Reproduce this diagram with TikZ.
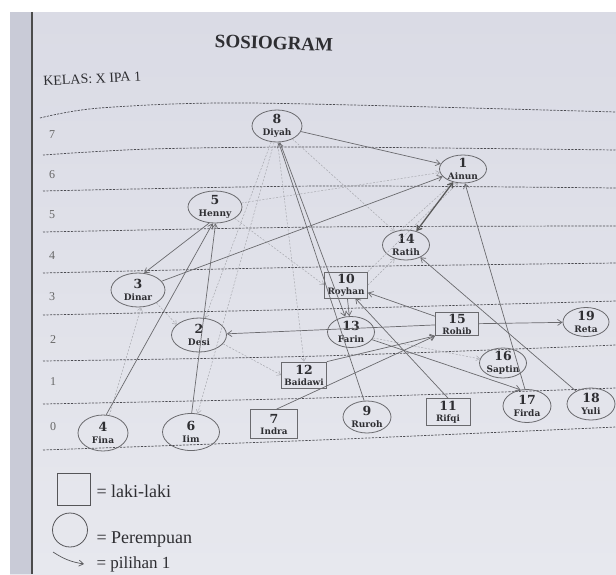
\documentclass[tikz,border=0pt]{standalone}
\usepackage{fontspec}
\setmainfont{Liberation Serif}
\newfontfamily\nodefont{DejaVu Serif}
\usetikzlibrary{shapes.geometric,arrows.meta}
\definecolor{pagetop}{HTML}{DADBE5}
\definecolor{pagebot}{HTML}{E7E8EE}
\definecolor{stripc}{HTML}{C9CBD7}
\definecolor{edgec}{HTML}{6A6A6E}
\definecolor{faintc}{HTML}{A9AAB0}
\definecolor{txt}{HTML}{2E2E32}
\definecolor{dashc}{HTML}{4A4A50}
\newcommand{\nd}[2]{{\fontsize{12.5}{11.5}\selectfont #1}\\{#2}}
\tikzset{
  pers/.style={ellipse, draw=edgec, line width=0.8pt, inner sep=-1pt, align=center,
    font=\nodefont\bfseries\fontsize{9}{11.5}\selectfont, text=txt},
  male/.style={rectangle, draw=edgec, line width=0.8pt, inner sep=0.5pt, align=center,
    font=\nodefont\bfseries\fontsize{8.8}{11}\selectfont, text=txt},
  choice/.style={draw=edgec, line width=0.7pt, -{Straight Barb[length=4.5pt,width=6pt]}},
  mutual/.style={draw=black!65, line width=1.3pt, {Straight Barb[length=4.5pt,width=6pt]}-{Straight Barb[length=4.5pt,width=6pt]}},
  faintline/.style={draw=faintc, line width=0.5pt, dash pattern=on 2pt off 1.5pt, -{Straight Barb[length=3.5pt,width=5pt]}},
  rowline/.style={draw=dashc, line width=0.7pt, dash pattern=on 2.2pt off 1.3pt},
  rowlabel/.style={font=\fontsize{12}{12}\selectfont, text=black!60},
  legendtext/.style={anchor=base west, font=\fontsize{18}{18}\selectfont, text=txt}
}
\begin{document}
\begin{tikzpicture}[x=1pt,y=-1pt]
\useasboundingbox (0,0) rectangle (616,574);
\fill[white] (0,0) rectangle (616,574);
\shade[top color=pagetop, bottom color=pagebot] (10,12) rectangle (616,574);
\fill[stripc] (10,12) rectangle (32,574);
\draw[line width=1.6pt, black!70] (32,12) -- (32,574);

% title
\node[font=\fontsize{19}{19}\selectfont\bfseries, text=txt, rotate=-2] (title) at (274,43) {SOSIOGRAM};
\node[anchor=base west, font=\fontsize{14}{14}\selectfont, text=txt, rotate=3] (kelas) at (40,86) {KELAS: X IPA 1};

% row lines
\draw[rowline] plot[smooth] coordinates {(40,118) (100,108) (250,103) (616,112)};
\draw[rowline] plot[smooth] coordinates {(43,155) (150,149) (320,147) (616,150)};
\draw[rowline] plot[smooth] coordinates {(43,191) (320,186) (616,188)};
\draw[rowline] plot[smooth] coordinates {(43,232) (320,227) (616,226)};
\draw[rowline] plot[smooth] coordinates {(43,273) (320,267) (616,263)};
\draw[rowline] plot[smooth] coordinates {(43,315) (320,309) (616,301)};
\draw[rowline] plot[smooth] coordinates {(43,361) (320,356) (616,345)};
\draw[rowline] plot[smooth] coordinates {(43,404) (320,398) (616,388)};
\draw[rowline] plot[smooth] coordinates {(43,450) (320,440) (616,427)};

% row labels
\node[rowlabel] (r7) at (52,135) {7};
\node[rowlabel] (r6) at (52,175) {6};
\node[rowlabel] (r5) at (52,215) {5};
\node[rowlabel] (r4) at (52,256) {4};
\node[rowlabel] (r3) at (52,297) {3};
\node[rowlabel] (r2) at (53,340) {2};
\node[rowlabel] (r1) at (53,382) {1};
\node[rowlabel] (r0) at (53,427) {0};

% nodes
\node[pers, minimum width=50pt, minimum height=32pt] (n8) at (277,126) {\nd{8}{Diyah}};
\node[pers, minimum width=47pt, minimum height=28pt] (n1) at (463,169) {\nd{1}{Ainun}};
\node[pers, minimum width=54pt, minimum height=32pt] (n5) at (215,207) {\nd{5}{Henny}};
\node[pers, minimum width=47pt, minimum height=30pt] (n14) at (406,245) {\nd{14}{Ratih}};
\node[pers, minimum width=54pt, minimum height=34pt] (n3) at (138,290) {\nd{3}{Dinar}};
\node[male, minimum width=43pt, minimum height=26pt] (n10) at (346,285) {\nd{10}{Royhan}};
\node[pers, minimum width=55pt, minimum height=34pt] (n2) at (199,335) {\nd{2}{Desi}};
\node[pers, minimum width=47pt, minimum height=31pt] (n13) at (351,332) {\nd{13}{Farin}};
\node[male, minimum width=43pt, minimum height=23pt] (n15) at (457,324) {\nd{15}{Rohib}};
\node[pers, minimum width=46pt, minimum height=29pt] (n19) at (586,322) {\nd{19}{Reta}};
\node[pers, minimum width=47pt, minimum height=30pt] (n16) at (503,363) {\nd{16}{Saptin}};
\node[male, minimum width=45pt, minimum height=26pt] (n12) at (304,375) {\nd{12}{Baidawi}};
\node[pers, minimum width=50pt, minimum height=36pt] (n4) at (103,433) {\nd{4}{Fina}};
\node[pers, minimum width=57pt, minimum height=37pt] (n6) at (191,432) {\nd{6}{Iim}};
\node[male, minimum width=47pt, minimum height=29pt] (n7) at (274,424) {\nd{7}{Indra}};
\node[pers, minimum width=48pt, minimum height=32pt] (n9) at (367,417) {\nd{9}{Ruroh}};
\node[male, minimum width=44pt, minimum height=27pt] (n11) at (448,412) {\nd{11}{Rifqi}};
\node[pers, minimum width=48pt, minimum height=33pt] (n17) at (527,406) {\nd{17}{Firda}};
\node[pers, minimum width=48pt, minimum height=32pt] (n18) at (591,404) {\nd{18}{Yuli}};

% faint choices
\draw[faintline] (n8.-100) -- (n6.70);
\draw[faintline] (n8.-110) -- (n2.70);
\draw[faintline] (n8.-88) -- (n12.north);
\draw[faintline] (n8.-40) -- (n14.130);
\draw[faintline] (n5) -- (n1);
\draw[faintline] (n10.north east) -- (n1.-110);
\draw[faintline] (n14.110) -- (n1.-125);
\draw[faintline] (n4.70) -- (n3.-80);
\draw[faintline] (n2.-20) -- (n12.west);
\draw[faintline] (n5.-30) -- (n10.west);
\draw[faintline] (n10.east) -- (n14.-130);
\draw[faintline] (n13.-15) -- (n16.170);
\draw[faintline] (n3.-35) -- (n2.155);

% main choices
\draw[choice] (n8) -- (n1);
\draw[choice] (n8.-80) -- (n13);
\draw[choice] (n9.100) -- (n8.-84);
\draw[choice] (n10) -- (n13);
\draw[mutual] (n14) -- (n1);
\draw[choice] (n3) -- (n1);
\draw[choice] (n5.250) -- (n3.70);
\draw[choice] (n4.80) -- (n5.262);
\draw[choice] (n6.88) -- (n5.272);
\draw[choice] (n15) -- (n2);
\draw[choice] (n15) -- (n19);
\draw[choice] (n15) -- (n10);
\draw[choice] (n11.north) -- (n10.-55);
\draw[choice] (n7.80) -- (n15.south west);
\draw[choice] (n12.north east) -- (n15.south west);
\draw[choice] (n17.97) -- (n1.-82);
\draw[choice] (n13.-20) -- (n17.112);
\draw[choice] (n18) -- (n14);

% legend
\draw[edgec!80!black, line width=0.8pt] (57,473) rectangle (90,505);
\node[legendtext] (l1) at (93,497) {= laki-laki};
\draw[edgec!80!black, line width=0.8pt] (70,530) ellipse [x radius=17.5, y radius=17];
\node[legendtext] (l2) at (93,543) {= Perempuan};
\coordinate (a1) at (53,552);
\coordinate (a2) at (84,564);
\draw[choice, edgec!80!black] (a1) to[bend right=12] (a2);
\node[legendtext, font=\fontsize{17}{17}\selectfont] (l3) at (93,568) {= pilihan 1};
\end{tikzpicture}
\end{document}
